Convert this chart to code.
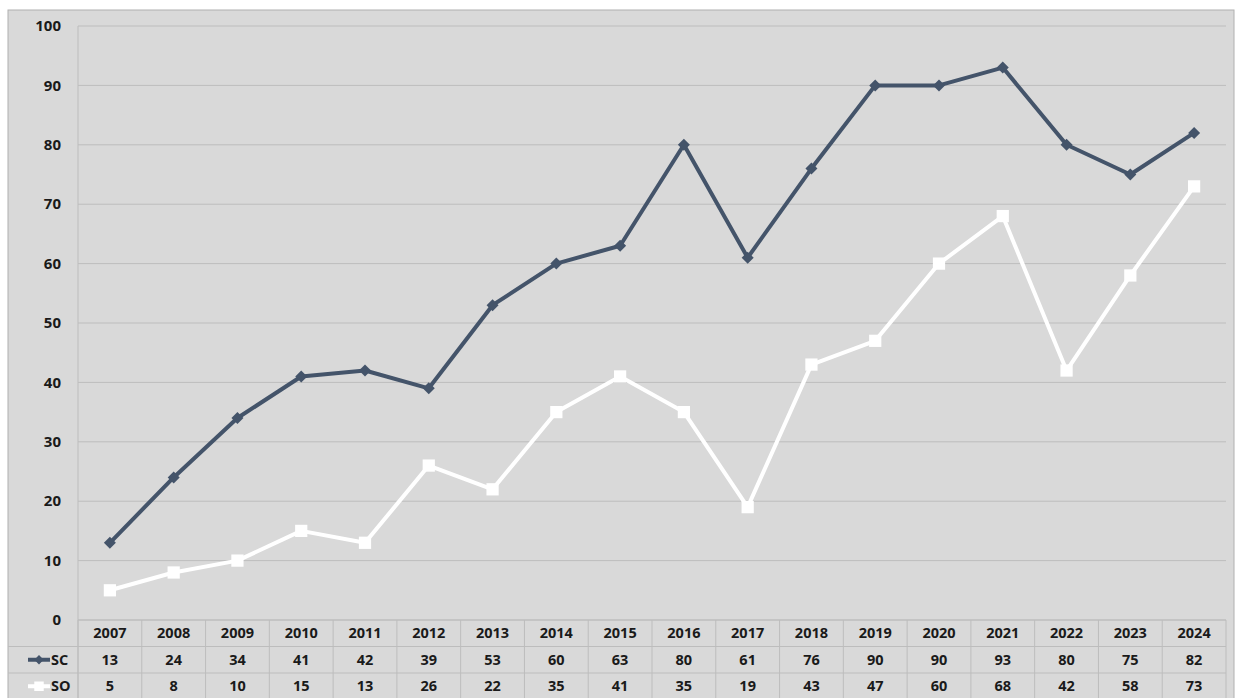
<!DOCTYPE html>
<html>
<head>
<meta charset="utf-8">
<script src="https://cdn.jsdelivr.net/npm/d3@7"></script>
<style>
  body { margin: 0; background: #fff; }
  svg { display: block; font-family: 'Open Sans', 'DejaVu Sans', sans-serif; }
</style>
</head>
<body>
<div id="chart"></div>
<script>
const years = ['2007', '2008', '2009', '2010', '2011', '2012', '2013', '2014', '2015',
  '2016', '2017', '2018', '2019', '2020', '2021', '2022', '2023', '2024'];
const scValues = [13, 24, 34, 41, 42, 39, 53, 60, 63, 80, 61, 76, 90, 90, 93, 80, 75, 82];
const soValues = [5, 8, 10, 15, 13, 26, 22, 35, 41, 35, 19, 43, 47, 60, 68, 42, 58, 73];
const yTicks = [0, 10, 20, 30, 40, 50, 60, 70, 80, 90, 100];

const width = 1235;
const height = 698;
const SCColor = '#44546a';
const SOColor = '#ffffff';
const gridColor = '#bdbdbd';

// diamond = square turned 45deg (Excel style)
const series = [
  { name: 'SC', values: scValues, color: SCColor, marker: d3.symbolSquare, rotate: 45, size: 72 },
  { name: 'SO', values: soValues, color: SOColor, marker: d3.symbolSquare, rotate: 0, size: 150 },
];

const frame = { left: 8, top: 10, right: 1234 };
const plot = { left: 78, right: 1226, top: 26, bottom: 620 };
const rowH = 26.5;

const svg = d3
  .select('#chart')
  .append('svg')
  .attr('width', width)
  .attr('height', height);

// background + outer border
svg
  .append('rect')
  .attr('x', frame.left)
  .attr('y', frame.top)
  .attr('width', frame.right - frame.left)
  .attr('height', height - frame.top + 5)
  .attr('fill', '#d9d9d9')
  .attr('stroke', '#b0b0b0')
  .attr('stroke-width', 1);

const xScale = d3
  .scaleBand()
  .domain(years)
  .range([plot.left, plot.right]);

const yScale = d3
  .scaleLinear()
  .domain([0, 100])
  .range([plot.bottom, plot.top]);

// grid lines
svg
  .append('g')
  .selectAll('line')
  .data(yTicks)
  .join('line')
  .attr('x1', plot.left)
  .attr('x2', plot.right)
  .attr('y1', (d) => yScale(d))
  .attr('y2', (d) => yScale(d))
  .attr('stroke', gridColor)
  .attr('stroke-width', 1);

// y axis line
svg
  .append('line')
  .attr('x1', plot.left)
  .attr('x2', plot.left)
  .attr('y1', plot.top)
  .attr('y2', height)
  .attr('stroke', gridColor);

// y tick labels
svg
  .append('g')
  .selectAll('text')
  .data(yTicks)
  .join('text')
  .attr('x', 61)
  .attr('y', (d) => yScale(d))
  .attr('dy', '0.35em')
  .attr('text-anchor', 'end')
  .style('font-size', '15px')
  .style('font-weight', 700)
  .attr('fill', '#1a1a1a')
  .text((d) => d);

// data table
const table = svg.append('g');
const rowTops = [plot.bottom, plot.bottom + rowH, plot.bottom + rowH * 2, plot.bottom + rowH * 3];

table
  .selectAll('.hline')
  .data(rowTops)
  .join('line')
  .attr('x1', (d, i) => (i === 0 ? plot.left : frame.left))
  .attr('x2', plot.right)
  .attr('y1', (d) => d)
  .attr('y2', (d) => d)
  .attr('stroke', gridColor);

table
  .selectAll('.vline')
  .data(years.concat(['end']))
  .join('line')
  .attr('x1', (d, i) => plot.left + i * xScale.bandwidth())
  .attr('x2', (d, i) => plot.left + i * xScale.bandwidth())
  .attr('y1', plot.bottom)
  .attr('y2', rowTops[3])
  .attr('stroke', gridColor);

table
  .selectAll('.year')
  .data(years)
  .join('text')
  .attr('x', (d) => xScale(d) + xScale.bandwidth() / 2)
  .attr('y', plot.bottom + rowH / 2)
  .attr('dy', '0.36em')
  .attr('text-anchor', 'middle')
  .style('font-size', '14.5px')
  .style('font-weight', 700)
  .attr('fill', '#1a1a1a')
  .text((d) => d);

series.forEach((s, si) => {
  const cy = plot.bottom + rowH * (si + 1) + rowH / 2;

  table
    .append('g')
    .selectAll('text')
    .data(s.values)
    .join('text')
    .attr('x', (d, i) => xScale(years[i]) + xScale.bandwidth() / 2)
    .attr('y', cy)
    .attr('dy', '0.36em')
    .attr('text-anchor', 'middle')
    .style('font-size', '14.5px')
    .style('font-weight', 700)
    .attr('fill', '#1a1a1a')
    .text((d) => d);

  // legend key
  table
    .append('line')
    .attr('x1', 28)
    .attr('x2', 50)
    .attr('y1', cy)
    .attr('y2', cy)
    .attr('stroke', s.color)
    .attr('stroke-width', 4);
  table
    .append('path')
    .attr('d', d3.symbol().type(s.marker).size(s.size * 0.6)())
    .attr('transform', `translate(39,${cy}) rotate(${s.rotate})`)
    .attr('fill', s.color);
  table
    .append('text')
    .attr('x', 51)
    .attr('y', cy)
    .attr('dy', '0.36em')
    .style('font-size', '14.5px')
    .style('font-weight', 700)
    .attr('fill', '#1a1a1a')
    .text(s.name);
});

// lines
const line = d3
  .line()
  .x((d, i) => xScale(years[i]) + xScale.bandwidth() / 2)
  .y((d) => yScale(d));

const marks = svg.append('g');

series.slice().reverse().forEach((s) => {
  marks
    .append('path')
    .datum(s.values)
    .attr('d', line)
    .attr('fill', 'none')
    .attr('stroke', s.color)
    .attr('stroke-width', 4)
    .attr('stroke-linejoin', 'round');

  marks
    .append('g')
    .selectAll('path')
    .data(s.values)
    .join('path')
    .attr('d', d3.symbol().type(s.marker).size(s.size)())
    .attr('transform', (d, i) => `translate(${xScale(years[i]) + xScale.bandwidth() / 2},${yScale(d)}) rotate(${s.rotate})`)
    .attr('fill', s.color);
});
</script>
</body>
</html>
